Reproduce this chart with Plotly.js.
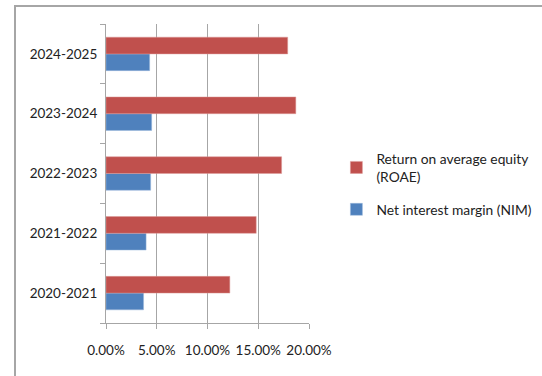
<!DOCTYPE html>
<html>
<head>
<meta charset="utf-8">
<script src="https://cdn.plot.ly/plotly-3.0.1.min.js"></script>
<style>
html,body{margin:0;padding:0;background:#fff;}
#wrap{position:relative;width:542px;height:376px;overflow:hidden;}
#chart{position:absolute;left:0;top:0;width:542px;height:376px;}
#frame{position:absolute;left:14px;top:5px;width:600px;height:400px;border-left:2px solid #a6a6a6;border-top:2px solid #a6a6a6;pointer-events:none;}
</style>
</head>
<body>
<div id="wrap">
<div id="chart"></div>
<div id="frame"></div>
</div>
<script>
const categories = ["2020-2021", "2021-2022", "2022-2023", "2023-2024", "2024-2025"];
const roae = [0.122, 0.148, 0.173, 0.187, 0.179];
const nim = [0.037, 0.0395, 0.044, 0.045, 0.043];
const xTicks = [0, 0.05, 0.10, 0.15, 0.20];
const seriesNames = ["Return on average equity<br>(ROAE)", "Net interest margin (NIM)"];

const FONT = 'Lato, "Open Sans", sans-serif';

const data = [
  {type: 'bar', orientation: 'h', name: seriesNames[1], legendgroup: 'nim', legendrank: 2, y: categories, x: nim,
   marker: {color: '#4F81BD', line: {color: '#9db8dc', width: 0.5}}, hoverinfo: 'x+y'},
  {type: 'bar', orientation: 'h', name: seriesNames[0], legendgroup: 'roae', legendrank: 1, y: categories, x: roae,
   marker: {color: '#C0504D', line: {color: '#dc9a98', width: 0.5}}, hoverinfo: 'x+y'}
];

const layout = {
  width: 542, height: 376,
  margin: {l: 106, r: 233, t: 24, b: 53, pad: 0, autoexpand: false},
  paper_bgcolor: '#fff', plot_bgcolor: '#fff',
  font: {family: FONT, size: 13.5, color: '#222'},
  barmode: 'group', bargap: 0.44, bargroupgap: 0,
  showlegend: true,
  legend: {traceorder: 'grouped', tracegroupgap: 12, x: 1.135, xanchor: 'left', y: 0.465, yanchor: 'middle',
           font: {family: FONT, size: 13.8, color: '#222'}, itemwidth: 30,
           bgcolor: 'rgba(0,0,0,0)'},
  xaxis: {range: [0, 0.2], tickvals: xTicks, tickformat: '.2%', showgrid: true,
          gridcolor: '#a6a6a6', gridwidth: 1, showline: true, linecolor: '#a6a6a6',
          ticks: 'outside', ticklen: 5, tickcolor: '#a6a6a6', zeroline: false,
          tickangle: 0, automargin: false,
          ticklabelstandoff: 10, fixedrange: true},
  yaxis: {type: 'category', showline: true, linecolor: '#a6a6a6', ticks: 'outside',
          tickson: 'boundaries', ticklen: 5, tickcolor: '#a6a6a6', showgrid: false,
          automargin: false, ticklabelstandoff: 5, fixedrange: true}
};

Plotly.newPlot('chart', data, layout, {displayModeBar: false, staticPlot: true});
</script>
</body>
</html>
